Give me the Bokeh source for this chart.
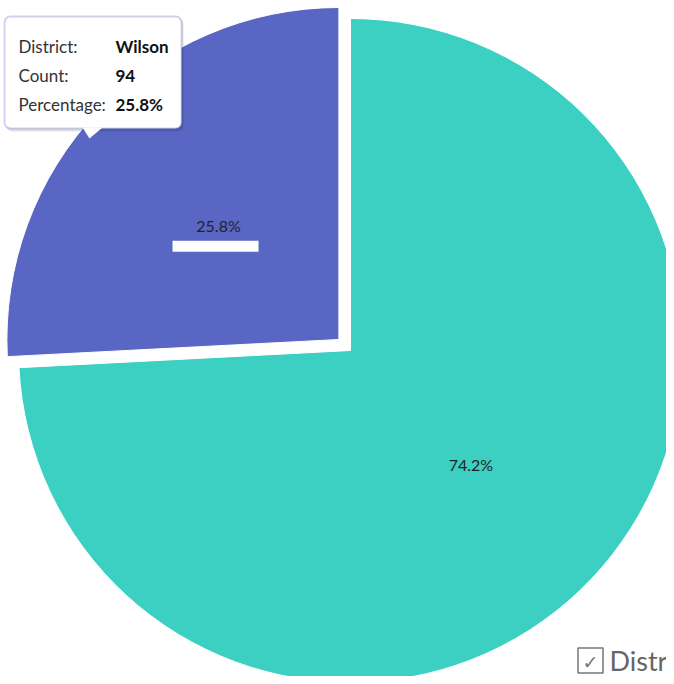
import math
from bokeh.plotting import figure
from bokeh.models import Range1d, BoxAnnotation, ColumnDataSource
from bokeh.core.properties import value
from bokeh.embed import file_html
from bokeh.resources import INLINE

# ---- data ----
districts = ["Other", "Wilson"]
counts = [270, 94]
colors = ["#3BD0C1", "#5A66C3"]
legend_title = "District"

# ---- layout helpers (image pixel coordinates -> data) ----
W, H = 666, 676
def Y(ypix):
    return H - ypix

p = figure(width=W, height=H, x_range=Range1d(0, W), y_range=Range1d(0, H),
           x_axis_type=None, y_axis_type=None, output_backend="svg",
           toolbar_location=None, min_border=0)
p.outline_line_color = None
p.background_fill_color = "white"
p.border_fill_color = "white"

cx, cy, R = 350, Y(350), 332
explode = [0, 16]
total = sum(counts)

xs, ys, starts, ends, lx, ly, labels = [], [], [], [], [], [], []
ang = math.pi / 2
for i, c in enumerate(counts):
    frac = c / total
    end = ang - 2 * math.pi * frac
    mid = (ang + end) / 2
    ox = cx + explode[i] * math.cos(mid)
    oy = cy + explode[i] * math.sin(mid)
    xs.append(ox); ys.append(oy); starts.append(ang); ends.append(end)
    lx.append(ox + 0.5 * R * math.cos(mid)); ly.append(oy + 0.5 * R * math.sin(mid))
    labels.append(f"{100 * frac:.1f}%")
    ang = end

src = ColumnDataSource(dict(x=xs, y=ys, start=starts, end=ends, color=colors,
                            lx=lx, ly=ly, label=labels, district=districts, count=counts))
p.wedge(x="x", y="y", radius=R, start_angle="start", end_angle="end", direction="clock",
        fill_color="color", line_color="white", line_width=1, source=src)
p.text(x="lx", y="ly", text="label", source=src, text_font=value("Lato"),
       text_font_size="16px", text_color="#222222", text_align="center",
       text_baseline="middle")

# highlight bar under hovered slice label
hi = districts.index("Wilson")
p.rect(x=[lx[hi] - 3], y=[ly[hi] - 21], width=86, height=11,
       fill_color="white", line_color=None)

# ---- tooltip (static) ----
p.add_layout(BoxAnnotation(left=6, right=183, top=Y(18), bottom=Y(131),
                           fill_color="#000000", fill_alpha=0.12, line_color=None,
                           border_radius=6))
p.add_layout(BoxAnnotation(left=4, right=181, top=Y(16), bottom=Y(128),
                           fill_color="white", fill_alpha=1, line_color="#5A66C3",
                           line_width=1.8, border_radius=6))
ptr = p.patch(x=[82, 102, 89], y=[Y(127), Y(127), Y(138)], fill_color="white", line_color=None)
ptr.level = "overlay"

tt_keys = ["District:", "Count:", "Percentage:"]
tt_vals = [districts[hi], str(counts[hi]), labels[hi]]
tt_y = [Y(46), Y(75), Y(104)]
t1 = p.text(x=[18] * 3, y=tt_y, text=tt_keys, text_font=value("Lato"), text_font_size="17px",
            text_color="#333333", text_baseline="middle", text_align="left")
t2 = p.text(x=[115] * 3, y=tt_y, text=tt_vals, text_font=value("Lato"), text_font_size="17px",
            text_font_style="bold", text_color="#111111", text_baseline="middle", text_align="left")
t1.level = "overlay"
t2.level = "overlay"

# ---- legend (partly outside, as in the reference) ----
lgx, lgy = 590, Y(660)
p.rect(x=[lgx], y=[lgy], width=25, height=25, fill_color="white",
       line_color="#777777", line_width=1.5)
p.text(x=[lgx], y=[lgy - 1], text=["\u2713"], text_font=value("DejaVu Sans"),
       text_font_size="19px", text_color="#777777", text_align="center", text_baseline="middle")
p.text(x=[lgx + 19], y=[lgy], text=[legend_title], text_font=value("Lato"),
       text_font_size="27px", text_color="#666666", text_align="left", text_baseline="middle")

open("out.html", "w").write(file_html(p, INLINE))
